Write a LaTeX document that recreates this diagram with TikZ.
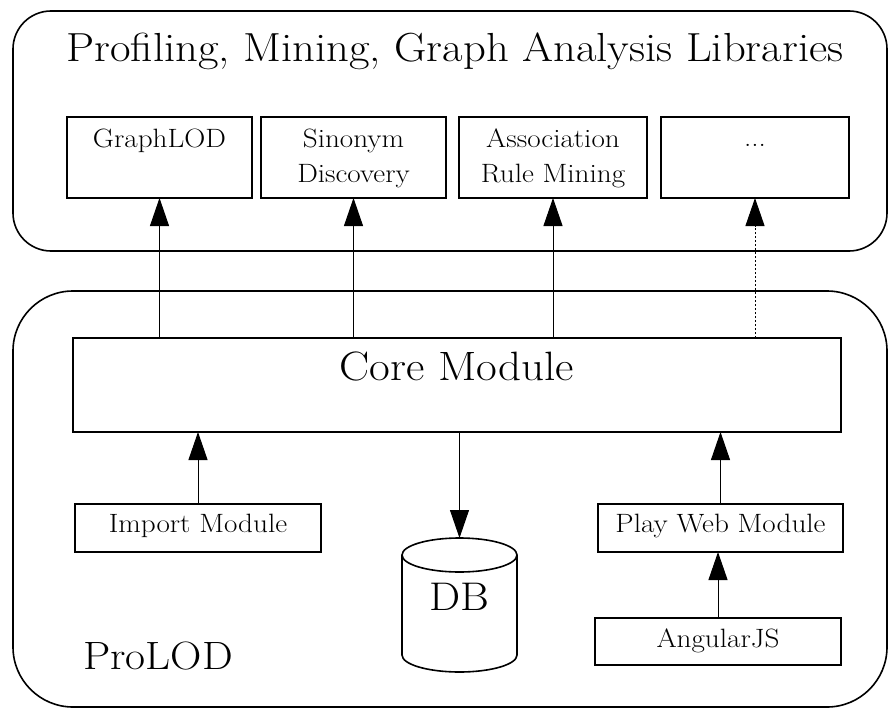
\documentclass[tikz,border=0pt]{standalone}
\usepackage{fontspec}
\setmainfont{Latin Modern Roman}[FakeStretch=1.1]
\usetikzlibrary{arrows.meta,calc}
\begin{document}
\begin{tikzpicture}[x=1pt,y=1pt,
  group/.style={draw, line width=1.6pt},
  box/.style={draw, line width=1.6pt, rectangle, inner sep=0pt, outer sep=0pt},
  arr/.style={line width=1pt, -{Triangle[length=28pt,width=19pt]}},
  small/.style={font=\fontsize{26.5}{35}\selectfont, inner sep=0pt, align=center},
  big/.style={font=\fontsize{40}{48}\selectfont, inner sep=0pt}
]
\useasboundingbox (0,0) rectangle (889,-709);

% outer groups
\draw[group, rounded corners=38pt] (13,-11) rectangle (887,-251);
\draw[group, rounded corners=60pt] (13,-291) rectangle (887,-707);
\node[font=\fontsize{40.6}{48}\selectfont, inner sep=0pt, anchor=base] (title) at (455,-62) {Profiling, Mining, Graph Analysis Libraries};
\node[big, font=\fontsize{39.5}{48}\selectfont, anchor=base west] (prolod) at (83,-669) {ProLOD};

% library boxes
\node[box, minimum width=185pt, minimum height=81pt] (g) at (159.5,-157.5) {};
\node[box, minimum width=185pt, minimum height=81pt] (s) at (353.5,-157.5) {};
\node[box, minimum width=188pt, minimum height=81pt] (a) at (553,-157.5) {};
\node[box, minimum width=188pt, minimum height=81pt] (d) at (755,-157.5) {};
\node[small, anchor=base] (gt) at (159.5,-147) {GraphLOD};
\node[small, anchor=base] (st) at (353.5,-182) {Sinonym\\Discovery};
\node[small, anchor=base] (at) at (553,-182) {Association\\Rule Mining};
\node[small, anchor=base] (dt) at (755,-146) {...};

% core and modules
\node[box, minimum width=768pt, minimum height=94pt] (core) at (457,-385) {};
\node[font=\fontsize{41}{48}\selectfont, inner sep=0pt, anchor=base] (coret) at (457,-380) {Core Module};
\node[box, minimum width=246pt, minimum height=48pt] (imp) at (198,-528) {};
\node[small, anchor=base] (impt) at (198,-532) {Import Module};
\node[box, minimum width=245pt, minimum height=48pt] (play) at (720.5,-528) {};
\node[small, anchor=base] (playt) at (720.5,-532) {Play Web Module};
\node[box, minimum width=246pt, minimum height=47pt] (ang) at (718,-641.5) {};
\node[small, anchor=base] (angt) at (718,-647) {AngularJS};

% database cylinder
\draw[line width=1.6pt] (459.5,-555) ellipse [x radius=57.5, y radius=17];
\draw[line width=1.6pt] (402,-555) -- (402,-655) arc[start angle=180, end angle=360, x radius=57.5, y radius=17] -- (517,-555);
\coordinate (dbtop) at (459.5,-538);
\node[big, anchor=base] (db) at (459.5,-610) {DB};

% connectors
\draw[arr] (g.south |- core.north) -- (g.south);
\draw[arr] (s.south |- core.north) -- (s.south);
\draw[arr] (a.south |- core.north) -- (a.south);
\draw[arr, dash pattern=on 2pt off 2pt] (d.south |- core.north) -- (d.south);
\draw[arr] (imp.north) -- (imp.north |- core.south);
\draw[arr] (dbtop |- core.south) -- (dbtop);
\draw[arr] (play.north) -- (play.north |- core.south);
\draw[arr] (ang.north) -- (ang.north |- play.south);
\end{tikzpicture}
\end{document}
